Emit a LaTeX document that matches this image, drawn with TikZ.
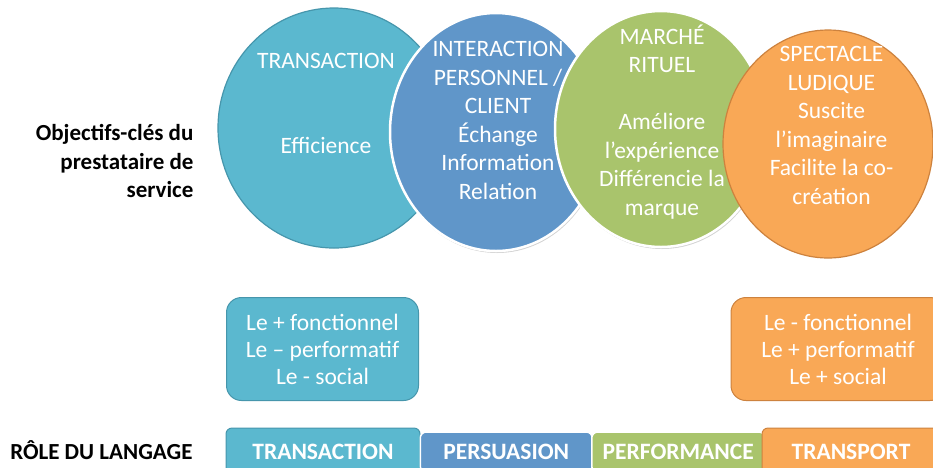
\documentclass[tikz,border=0pt]{standalone}
\usepackage{fontspec}
\setmainfont{Carlito}
\usetikzlibrary{shapes,positioning,calc,shadows}
\definecolor{cteal}{RGB}{91,184,207}
\definecolor{ctealdark}{RGB}{70,150,172}
\definecolor{cblue}{RGB}{96,150,201}
\definecolor{cgreen}{RGB}{169,196,108}
\definecolor{corange}{RGB}{249,168,86}
\definecolor{corangedark}{RGB}{205,130,62}
\tikzset{
oval/.style = {draw, ellipse, minimum width=212pt, minimum height=236pt, line width=1.2pt},
softshadow/.style = {drop shadow={opacity=0.35, shadow xshift=1pt, shadow yshift=-2pt}},
words/.style = {text=white, align=center, font=\fontsize{23.5}{28.5}\selectfont},
goal/.style = {draw, rectangle, rounded corners=15pt, minimum width=192pt, minimum height=103pt, line width=1pt, text=white, align=center, font=\fontsize{23.5}{27}\selectfont},
rolebar/.style = {draw, rectangle, rounded corners=6pt, minimum height=44pt, inner sep=0pt, line width=1.5pt, text=white, font=\fontsize{23.5}{24}\selectfont\bfseries},
leftlabel/.style = {anchor=east, align=right, font=\fontsize{23}{28.5}\selectfont\bfseries}
}
\begin{document}
\begin{tikzpicture}[x=1pt, y=-1pt, node distance=162pt]
\clip (0,0) rectangle (933,467);

% les quatre cercles
\node [oval, fill=cteal, draw=ctealdark, minimum width=232pt, minimum height=240pt] (trans) at (334,128) {};
\node [oval, fill=cblue, draw=white, line width=2.5pt, softshadow, right of=trans, yshift=-4pt, minimum height=238pt] (inter) {};
\node [oval, fill=cgreen, draw=white, line width=2.5pt, softshadow, right of=inter, node distance=165pt, yshift=3pt, minimum height=236pt] (march) {};
\node [oval, fill=corange, draw=corangedark, right of=march, node distance=167pt, yshift=-15pt, minimum width=210pt, minimum height=228pt] (spect) {};

\node [words] (transtxt) at ([xshift=-8pt,yshift=24.5pt]trans.center) {TRANSACTION\\[57pt]Efficience};
\node [words] (intertxt) at ([xshift=2pt,yshift=11.5pt]inter.center) {INTERACTION\\PERSONNEL /\\CLIENT\\Échange\\Information\\Relation};
\node [words] (marchtxt) at ([xshift=1pt,yshift=7pt]march.center) {MARCHÉ\\RITUEL\\[28.5pt]Améliore\\l’expérience\\Différencie la\\marque};
\node [words] (specttxt) at ([xshift=3.5pt,yshift=18.5pt]spect.center) {SPECTACLE\\LUDIQUE\\Suscite\\l’imaginaire\\Facilite la co-\\création};

\node [leftlabel] (goals) at (197,161) {Objectifs-clés du\\prestataire de\\service};

% les deux extremes
\node [goal, fill=cteal, draw=ctealdark] (most) at (322.5,349) {Le + fonctionnel\\Le – performatif\\Le - social};
\node [goal, fill=corange, draw=corangedark, minimum width=214pt] (least) at (838,349) {Le - fonctionnel\\Le + performatif\\Le + social};

% role du langage
\node [rolebar, fill=cteal, draw=ctealdark, line width=1pt, minimum width=194pt, minimum height=48pt] (trbar) at (323,452) {TRANSACTION};
\node [rolebar, fill=cblue, draw=white, minimum width=172pt, minimum height=40pt, right=-1pt of trbar] (pebar) {PERSUASION};
\node [rolebar, fill=cgreen, draw=white, minimum width=173pt, minimum height=40pt, right=-2pt of pebar] (pfbar) {PERFORMANCE};
\node [rolebar, fill=corange, draw=corangedark, line width=1pt, minimum width=178pt, minimum height=48pt, right=-4pt of pfbar] (tpbar) {TRANSPORT};

\node [leftlabel] (role) at (196,450) {RÔLE DU LANGAGE};
\end{tikzpicture}
\end{document}
